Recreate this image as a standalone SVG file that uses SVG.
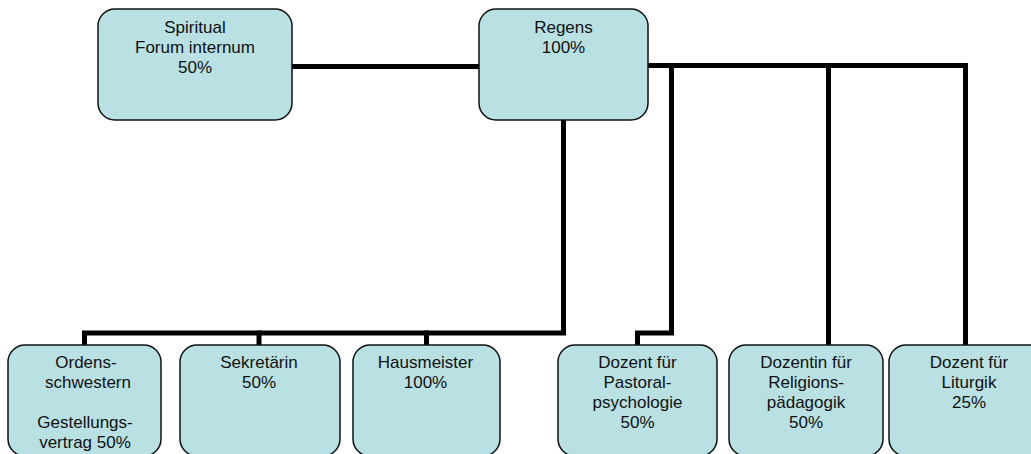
<svg xmlns="http://www.w3.org/2000/svg" width="1031" height="454" viewBox="0 0 1031 454">
<style>
.box{fill:#b9e0e3;stroke:#111;stroke-width:1.5}
.t{font-family:"Liberation Sans",Arial,sans-serif;font-size:17px;fill:#111;text-anchor:middle}
.c{fill:none;stroke:#000;stroke-width:5;stroke-linejoin:miter;stroke-linecap:square}
</style>
<rect width="1031" height="454" fill="#fff"/>
<g id="connectors">
<path class="c" d="M292 66.5H479"/>
<path class="c" d="M648 65.5H965.5V345"/>
<path class="c" d="M828.5 65.5V345"/>
<path class="c" d="M671.5 65.5V333H637.5V345"/>
<path class="c" d="M563.5 120V333H84.5V345"/>
<path class="c" d="M259 333V345"/>
<path class="c" d="M426.5 333V345"/>
</g>
<g id="spiritual">
<rect class="box" x="98" y="9" width="194" height="111" rx="17"/>
<text class="t" x="195" y="33">Spiritual</text>
<text class="t" x="195" y="53">Forum internum</text>
<text class="t" x="195" y="73">50%</text>
</g>
<g id="regens">
<rect class="box" x="479" y="9" width="169" height="111" rx="17"/>
<text class="t" x="563.5" y="33">Regens</text>
<text class="t" x="563.5" y="53">100%</text>
</g>
<g id="ordensschwestern">
<rect class="box" x="8" y="345" width="153" height="111" rx="17"/>
<text class="t" x="86" y="368">Ordens-</text>
<text class="t" x="88" y="388">schwestern</text>
<text class="t" x="85" y="428">Gestellungs-</text>
<text class="t" x="85" y="448">vertrag 50%</text>
</g>
<g id="sekretaerin">
<rect class="box" x="180" y="345" width="160" height="111" rx="17"/>
<text class="t" x="259" y="368">Sekretärin</text>
<text class="t" x="259" y="388">50%</text>
</g>
<g id="hausmeister">
<rect class="box" x="353" y="345" width="147" height="111" rx="17"/>
<text class="t" x="425.5" y="368">Hausmeister</text>
<text class="t" x="425.5" y="388">100%</text>
</g>
<g id="pastoral">
<rect class="box" x="558" y="345" width="159" height="111" rx="17"/>
<text class="t" x="637.5" y="368">Dozent für</text>
<text class="t" x="637.5" y="388">Pastoral-</text>
<text class="t" x="637.5" y="408">psychologie</text>
<text class="t" x="637.5" y="428">50%</text>
</g>
<g id="religion">
<rect class="box" x="729" y="345" width="154" height="111" rx="17"/>
<text class="t" x="806" y="368">Dozentin für</text>
<text class="t" x="806" y="388">Religions-</text>
<text class="t" x="806" y="408">pädagogik</text>
<text class="t" x="806" y="428">50%</text>
</g>
<g id="liturgik">
<rect class="box" x="889" y="345" width="160" height="111" rx="17"/>
<text class="t" x="969" y="368">Dozent für</text>
<text class="t" x="969" y="388">Liturgik</text>
<text class="t" x="969" y="408">25%</text>
</g>
</svg>
